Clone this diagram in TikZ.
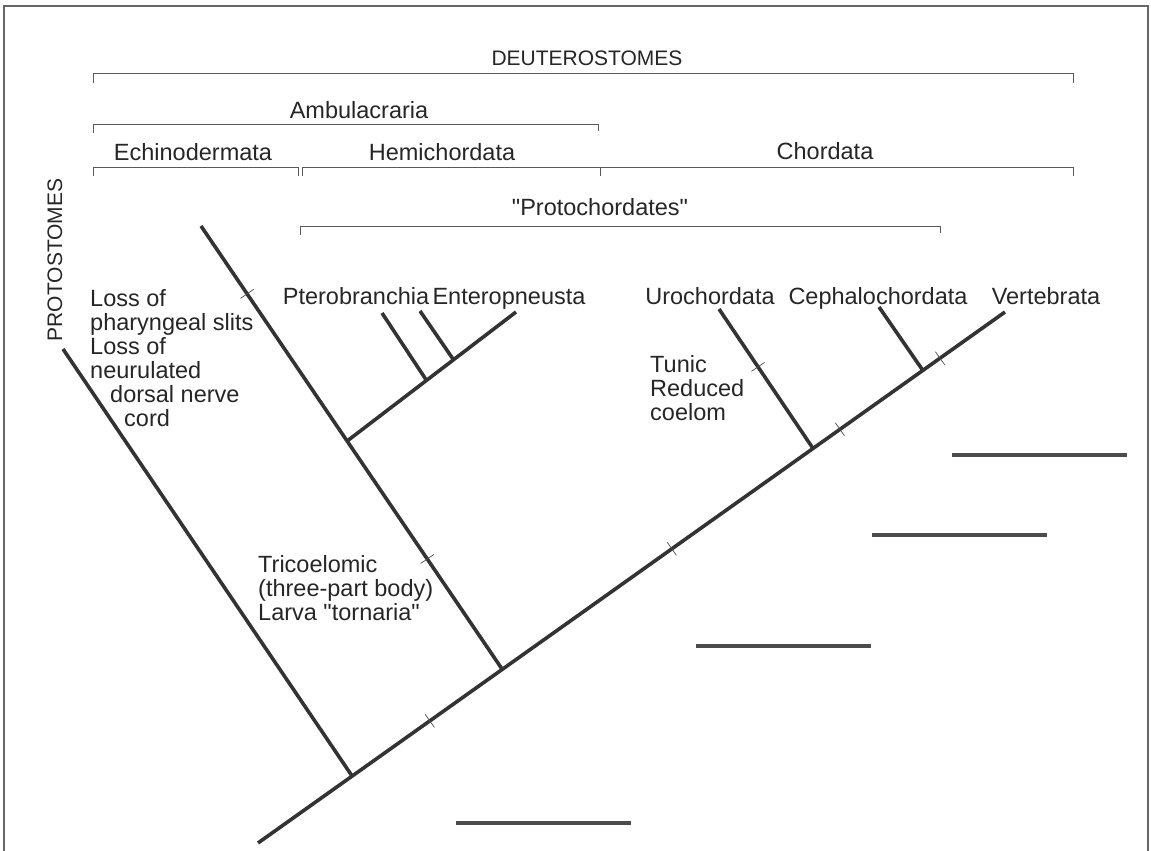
\documentclass[tikz,border=0pt]{standalone}
\usepackage{fontspec}
\setmainfont{Liberation Sans}
\usetikzlibrary{calc}

\begin{document}
\begin{tikzpicture}[x=1pt,y=-1pt,
    branch/.style={line width=3.6pt,color=black!80},
    bracket/.style={line width=0.9pt,color=black!65},
    tickmark/.style={line width=0.7pt,color=black!70},
    answer/.style={line width=3.2pt,color=black!70},
    lab/.style={inner sep=0pt,text=black!85,font=\fontsize{23.5}{24}\selectfont},
    caps/.style={lab,font=\fontsize{21}{24}\selectfont},
    note/.style={lab,align=left,anchor=north west}]
    \useasboundingbox (0,0) rectangle (1151,851);
    \draw[line width=1.2pt,black!60] (4,851)--(4,6)--(1148,6)--(1148,851);
    % group brackets
    \node[caps] (deut) at (587,58) {DEUTEROSTOMES};
    \node[lab] (ambu) at (359,110) {Ambulacraria};
    \node[lab] (echi) at (193,152) {Echinodermata};
    \node[lab] (hemi) at (442,152) {Hemichordata};
    \node[lab] (chor) at (825,151) {Chordata};
    \node[lab] (protoc) at (600,207) {\textquotedbl Protochordates\textquotedbl};
    \node[caps,rotate=90] (proto) at (55,260) {PROTOSTOMES};
    \draw[bracket] (93,83)--(93,73)--(1073,73)--(1073,83);
    \draw[bracket] (93,133)--(93,124)--(598,124)--(598,131);
    \draw[bracket] (93,176)--(93,167)--(298,167)--(298,176);
    \draw[bracket] (302,176)--(302,167)--(600,167)--(600,176);
    \draw[bracket] (600,167)--(1073,167)--(1073,176);
    \draw[bracket] (300,235)--(300,226)--(940,226)--(940,233);
    % tree
    \coordinate (R) at (258,843);
    \coordinate (V) at (1005,312);
    \coordinate (P) at (63,349);
    \coordinate (Pj) at ($(R)!0.126!(V)$);
    \coordinate (E) at (201,226);
    \coordinate (Ej) at ($(R)!0.327!(V)$);
    \coordinate (Hj) at ($(E)!0.485!(Ej)$);
    \coordinate (En) at (516,312);
    \coordinate (Pt) at (382,313);
    \coordinate (Ptj) at ($(Hj)!0.47!(En)$);
    \coordinate (Pt2) at (420,311);
    \coordinate (Pt2j) at ($(Hj)!0.63!(En)$);
    \coordinate (U) at (719,309);
    \coordinate (Uj) at ($(R)!0.743!(V)$);
    \coordinate (C) at (879,307);
    \coordinate (Cj) at ($(R)!0.89!(V)$);
    \draw[branch] (R)--(V);
    \draw[branch] (P)--(Pj);
    \draw[branch] (E)--(Ej);
    \draw[branch] (Hj)--(En);
    \draw[branch] (Pt)--(Ptj);
    \draw[branch] (Pt2)--(Pt2j);
    \draw[branch] (U)--(Uj);
    \draw[branch] (C)--(Cj);
    \foreach \t in {0.230,0.554,0.779,0.913}
        \draw[tickmark] ($(R)!\t!(V)+(-4.6,-6.5)$)--($(R)!\t!(V)+(4.6,6.5)$);
    \foreach \t in {0.153,0.751}
        \draw[tickmark] ($(E)!\t!(Ej)+(-6.6,4.5)$)--($(E)!\t!(Ej)+(6.6,-4.5)$);
    \draw[tickmark] ($(U)!0.415!(Uj)+(-6.6,4.5)$)--($(U)!0.415!(Uj)+(6.6,-4.5)$);
    % taxa
    \node[lab] (ptero) at (356,296) {Pterobranchia};
    \node[lab] (entero) at (509,298.5) {Enteropneusta};
    \node[lab] (uro) at (710,296) {Urochordata};
    \node[lab] (ceph) at (878,298.5) {Cephalochordata};
    \node[lab] (vert) at (1046,296) {Vertebrata};
    % characters
    \node[note] (loss) at (90,289) {Loss of\\pharyngeal slits\\Loss of\\neurulated\\\hspace*{20pt}dorsal nerve\\\hspace*{34pt}cord};
    \node[note] (tunic) at (650,355) {Tunic\\Reduced\\coelom};
    \node[note] (trico) at (258,555) {Tricoelomic\\(three-part body)\\Larva \textquotedbl tornaria\textquotedbl};
    % blanks
    \draw[answer] (952,455)--(1127,455);
    \draw[answer] (872,535)--(1047,535);
    \draw[answer] (696,646)--(871,646);
    \draw[answer] (456,823)--(631,823);
\end{tikzpicture}
\end{document}
